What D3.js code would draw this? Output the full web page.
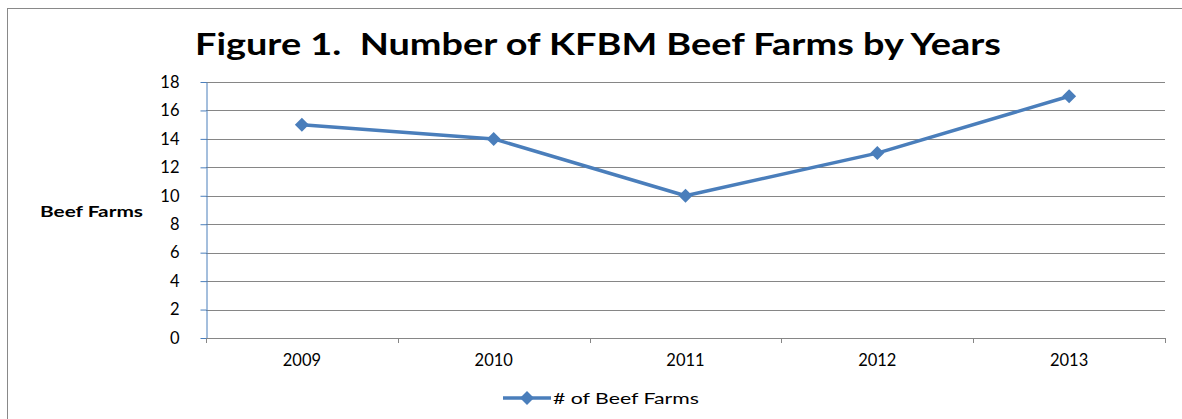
<!DOCTYPE html>
<html><head><meta charset="utf-8">
<script src="https://cdn.jsdelivr.net/npm/d3@7"></script>
<style>body{margin:0;background:#fff;}svg{display:block;}text{white-space:pre;}</style>
</head><body>
<svg id="c" width="1182" height="419"></svg>
<script>
const categories = ["2009","2010","2011","2012","2013"];
const farms = [15, 14, 10, 13, 17];
const yTicks = [0,2,4,6,8,10,12,14,16,18];
const titleText = "Figure 1.  Number of KFBM Beef Farms by Years";
const yLabel = "Beef Farms";
const seriesName = "# of Beef Farms";

const svg = d3.select("#c");
const font = "Lato, 'Open Sans', sans-serif";
const blue = "#4a7ebb";

// outer frame
svg.append("rect").attr("x",7.5).attr("y",8.5).attr("width",1200).attr("height",500)
  .attr("fill","none").attr("stroke","#898989").attr("stroke-width",1);

const L=206, R=1165, T=82, B=338;
const x = d3.scaleBand().domain(categories).range([L,R]);
const y = d3.scaleLinear().domain([0,18]).range([B,T]);

// gridlines
svg.append("g").selectAll("line").data(yTicks.filter(d=>d>0)).join("line")
  .attr("x1",L).attr("x2",R).attr("y1",d=>Math.round(y(d))+0.5).attr("y2",d=>Math.round(y(d))+0.5)
  .attr("stroke","#868686").attr("stroke-width",1);

// y axis
const ya = svg.append("g").attr("transform",`translate(${L+0.5},0)`)
  .call(d3.axisLeft(y).tickValues(yTicks).tickSize(6).tickPadding(21).tickSizeOuter(0));
ya.select(".domain").attr("stroke",blue);
ya.selectAll(".tick line").attr("stroke",blue);
ya.selectAll(".tick text").attr("font-family",font).attr("font-size",16.5).attr("fill","#000");

// x axis
const xa = svg.append("g").attr("transform",`translate(0,${B+0.5})`)
  .call(d3.axisBottom(x).tickSize(0).tickPadding(16));
xa.select(".domain").remove();
xa.selectAll(".tick text").attr("font-family",font).attr("font-size",16.5).attr("fill","#000");
svg.append("line").attr("x1",L).attr("x2",R).attr("y1",B+0.5).attr("y2",B+0.5).attr("stroke","#868686");
const bounds = categories.map(c=>x(c)).concat([R]);
svg.append("g").selectAll("line").data(bounds).join("line")
  .attr("x1",d=>Math.round(d)+0.5).attr("x2",d=>Math.round(d)+0.5).attr("y1",B).attr("y2",B+5)
  .attr("stroke","#868686");

// line
const cx = d=>x(d)+x.bandwidth()/2;
svg.append("path").datum(farms.map((v,i)=>[cx(categories[i]),y(v)]))
  .attr("d",d3.line()).attr("fill","none").attr("stroke",blue).attr("stroke-width",3.5)
  .attr("stroke-linejoin","round");
const diamond = d3.symbol().type(d3.symbolSquare).size(98);
svg.append("g").selectAll("path").data(farms).join("path")
  .attr("transform",(d,i)=>`translate(${cx(categories[i])},${y(d)}) rotate(45)`)
  .attr("d",diamond).attr("fill",blue);

// title
svg.append("text").attr("x",598).attr("y",55).attr("text-anchor","middle")
  .attr("font-family",font).attr("font-weight","bold").attr("font-size",31)
  .attr("textLength",806).attr("lengthAdjust","spacingAndGlyphs").text(titleText);

// y label
svg.append("text").attr("x",40).attr("y",217).attr("font-family",font).attr("font-weight","bold")
  .attr("font-size",14.5).attr("textLength",103).attr("lengthAdjust","spacingAndGlyphs").text(yLabel);

// legend
svg.append("line").attr("x1",503).attr("x2",551).attr("y1",398).attr("y2",398)
  .attr("stroke",blue).attr("stroke-width",3.5);
svg.append("path").attr("transform","translate(527,398) rotate(45)").attr("d",diamond).attr("fill",blue);
svg.append("text").attr("x",553).attr("y",404).attr("font-family",font).attr("font-size",16)
  .attr("textLength",146).attr("lengthAdjust","spacingAndGlyphs").text(seriesName);
</script>
</body></html>
